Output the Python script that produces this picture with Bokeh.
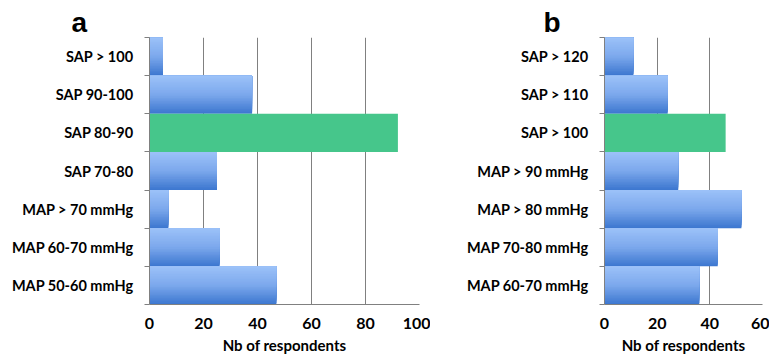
from bokeh.plotting import figure
from bokeh.layouts import row
from bokeh.models import FixedTicker, Range1d
from bokeh.embed import file_html
from bokeh.resources import INLINE

# Panel a
cats_a = ["SAP > 100", "SAP 90-100", "SAP 80-90", "SAP 70-80",
          "MAP > 70 mmHg", "MAP 60-70 mmHg", "MAP 50-60 mmHg"]
vals_a = [5, 38, 92, 25, 7, 26, 47]
hl_a = "SAP 80-90"
ticks_a = [0, 20, 40, 60, 80, 100]

# Panel b
cats_b = ["SAP > 120", "SAP > 110", "SAP > 100", "MAP > 90 mmHg",
          "MAP > 80 mmHg", "MAP 70-80 mmHg", "MAP 60-70 mmHg"]
vals_b = [11, 24, 46, 28, 52, 43, 36]
hl_b = "SAP > 100"
ticks_b = [0, 20, 40, 60]

FONT = "Lato"
TOP = (0x9c, 0xc2, 0xf9)
MID = (0x7c, 0xa8, 0xec)
BOT = (0x3b, 0x76, 0xcf)
GREEN = "#46c68b"
GRID = "#808080"


def grad(t):
    # t: 0 at top, 1 at bottom
    if t < 0.5:
        a, b, u = TOP, MID, t / 0.5
    else:
        a, b, u = MID, BOT, (t - 0.5) / 0.5
    c = [int(round(a[i] + (b[i] - a[i]) * u)) for i in range(3)]
    return "#%02x%02x%02x" % tuple(c)


def panel(cats, vals, hl, ticks, xmax, letter, border_left, frame_w, border_right, title_off):
    n = len(cats)
    ys = [n - 1 - i for i in range(n)]  # first category at top
    p = figure(frame_width=frame_w, frame_height=267,
               min_border_left=border_left, min_border_right=border_right,
               min_border_top=37, min_border_bottom=53,
               x_range=Range1d(0, xmax), y_range=Range1d(-0.5, n - 0.5),
               output_backend="svg", toolbar_location=None,
               background_fill_color="white", border_fill_color="white",
               outline_line_color=None)
    N = 24
    for c, v, y in zip(cats, vals, ys):
        if c == hl:
            p.hbar(y=y, height=1.0, left=0, right=v, fill_color=GREEN, line_color=None)
        else:
            # stacked layers from the top of the band: darkest (full) first, lightest last
            for k in range(N, 0, -1):
                h = k / N
                yc = y + 0.5 - h / 2
                p.hbar(y=yc, height=h, left=0, right=v,
                       fill_color=grad(h - 0.5 / N), line_color=None)
    # y axis
    yax = p.yaxis[0]
    yax.ticker = FixedTicker(ticks=ys, minor_ticks=[i - 0.5 for i in range(n + 1)])
    yax.major_label_overrides = {y: c for c, y in zip(cats, ys)}
    yax.major_tick_line_color = None
    yax.major_tick_out = 0
    yax.major_tick_in = 0
    yax.minor_tick_out = 5
    yax.minor_tick_in = 0
    yax.minor_tick_line_color = GRID
    yax.axis_line_color = GRID
    yax.major_label_text_font = FONT
    yax.major_label_text_font_style = "bold"
    yax.major_label_text_font_size = "14.5px"
    yax.major_label_text_color = "black"
    yax.major_label_standoff = 11
    # x axis
    xax = p.xaxis[0]
    xax.ticker = FixedTicker(ticks=ticks)
    xax.major_tick_line_color = None
    xax.major_tick_out = 0
    xax.major_tick_in = 0
    xax.minor_tick_line_color = None
    xax.axis_line_color = GRID
    xax.major_label_text_font = FONT
    xax.major_label_text_font_style = "bold"
    xax.major_label_text_font_size = "16px"
    xax.major_label_text_color = "black"
    xax.major_label_standoff = 13
    xax.axis_label = "Nb of respondents"
    xax.axis_label_text_font = FONT
    xax.axis_label_text_font_style = "bold"
    xax.axis_label_text_font_size = "15px"
    xax.axis_label_text_color = "black"
    xax.axis_label_standoff = 4
    p.xgrid.ticker = FixedTicker(ticks=ticks)
    p.xgrid.grid_line_color = GRID
    p.ygrid.grid_line_color = None
    p.title.text = letter
    p.title.text_font = "Liberation Sans"
    p.title.text_font_style = "bold"
    p.title.text_font_size = "28px"
    p.title.standoff = 0
    p.title.align = "left"
    p.title.offset = title_off
    p.title.text_color = "black"
    return p


pa = panel(cats_a, vals_a, hl_a, ticks_a, 100, "a", 149, 270, 11, -78)
pb = panel(cats_b, vals_b, hl_b, ticks_b, 60, "b", 174, 158, 7, -61)

layout = row(pa, pb, spacing=0)
open("out.html", "w").write(file_html(layout, INLINE))
